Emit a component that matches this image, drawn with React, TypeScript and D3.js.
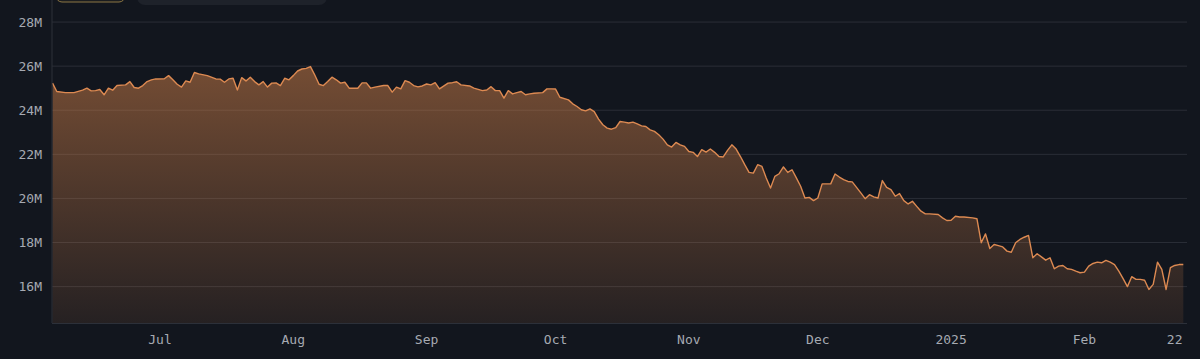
import React from 'react';
import * as d3 from 'd3';

const dates = [
  '2024-06-06','2024-06-07','2024-06-09','2024-06-11','2024-06-13','2024-06-14','2024-06-15','2024-06-16','2024-06-17','2024-06-18',
  '2024-06-19','2024-06-20','2024-06-21','2024-06-23','2024-06-24','2024-06-25','2024-06-26','2024-06-27','2024-06-28','2024-06-29',
  '2024-06-30','2024-07-02','2024-07-03','2024-07-04','2024-07-05','2024-07-06','2024-07-07','2024-07-08','2024-07-09','2024-07-10',
  '2024-07-12','2024-07-14','2024-07-15','2024-07-16','2024-07-17','2024-07-18','2024-07-19','2024-07-20','2024-07-21','2024-07-22',
  '2024-07-23','2024-07-24','2024-07-25','2024-07-26','2024-07-27','2024-07-28','2024-07-29','2024-07-30','2024-07-31','2024-08-01',
  '2024-08-02','2024-08-03','2024-08-04','2024-08-05','2024-08-06','2024-08-07','2024-08-08','2024-08-09','2024-08-10','2024-08-11',
  '2024-08-12','2024-08-13','2024-08-14','2024-08-16','2024-08-17','2024-08-18','2024-08-19','2024-08-20','2024-08-22','2024-08-23',
  '2024-08-24','2024-08-25','2024-08-26','2024-08-27','2024-08-28','2024-08-29','2024-08-30','2024-08-31','2024-09-01','2024-09-02',
  '2024-09-03','2024-09-04','2024-09-06','2024-09-07','2024-09-08','2024-09-09','2024-09-11','2024-09-12','2024-09-14','2024-09-15',
  '2024-09-16','2024-09-17','2024-09-18','2024-09-19','2024-09-20','2024-09-21','2024-09-22','2024-09-23','2024-09-24','2024-09-25',
  '2024-09-26','2024-09-28','2024-09-29','2024-09-30','2024-10-01','2024-10-02','2024-10-04','2024-10-05','2024-10-06','2024-10-07',
  '2024-10-08','2024-10-09','2024-10-10','2024-10-11','2024-10-12','2024-10-13','2024-10-14','2024-10-15','2024-10-16','2024-10-17',
  '2024-10-18','2024-10-19','2024-10-20','2024-10-21','2024-10-22','2024-10-23','2024-10-24','2024-10-25','2024-10-26','2024-10-27',
  '2024-10-28','2024-10-29','2024-10-30','2024-10-31','2024-11-01','2024-11-02','2024-11-03','2024-11-04','2024-11-05','2024-11-06',
  '2024-11-07','2024-11-08','2024-11-09','2024-11-10','2024-11-11','2024-11-12','2024-11-13','2024-11-14','2024-11-15','2024-11-16',
  '2024-11-17','2024-11-18','2024-11-19','2024-11-20','2024-11-21','2024-11-22','2024-11-23','2024-11-24','2024-11-25','2024-11-26',
  '2024-11-27','2024-11-28','2024-11-29','2024-11-30','2024-12-01','2024-12-02','2024-12-03','2024-12-04','2024-12-05','2024-12-06',
  '2024-12-07','2024-12-08','2024-12-09','2024-12-10','2024-12-11','2024-12-12','2024-12-13','2024-12-14','2024-12-15','2024-12-16',
  '2024-12-17','2024-12-18','2024-12-19','2024-12-20','2024-12-21','2024-12-22','2024-12-23','2024-12-24','2024-12-25','2024-12-26',
  '2024-12-27','2024-12-29','2024-12-30','2024-12-31','2025-01-01','2025-01-02','2025-01-03','2025-01-04','2025-01-06','2025-01-07',
  '2025-01-08','2025-01-09','2025-01-10','2025-01-11','2025-01-12','2025-01-13','2025-01-14','2025-01-15','2025-01-16','2025-01-17',
  '2025-01-18','2025-01-19','2025-01-20','2025-01-21','2025-01-22','2025-01-23','2025-01-24','2025-01-25','2025-01-26','2025-01-27',
  '2025-01-28','2025-01-29','2025-01-30','2025-01-31','2025-02-01','2025-02-02','2025-02-03','2025-02-04','2025-02-05','2025-02-06',
  '2025-02-07','2025-02-08','2025-02-09','2025-02-10','2025-02-11','2025-02-12','2025-02-13','2025-02-14','2025-02-15','2025-02-16',
  '2025-02-17','2025-02-18','2025-02-19','2025-02-20','2025-02-21','2025-02-22','2025-02-23','2025-02-24',
];

// values in millions
const values = [
  25.23,24.85,24.80,24.80,24.91,25.00,24.88,24.89,24.94,24.70,
  25.00,24.91,25.12,25.15,25.30,25.03,25.00,25.12,25.30,25.38,
  25.42,25.43,25.57,25.38,25.18,25.05,25.33,25.27,25.71,25.65,
  25.57,25.42,25.41,25.27,25.42,25.45,24.92,25.48,25.33,25.50,
  25.30,25.15,25.30,25.05,25.23,25.24,25.12,25.45,25.38,25.57,
  25.78,25.87,25.90,25.98,25.60,25.18,25.12,25.30,25.50,25.38,
  25.23,25.27,25.00,25.00,25.24,25.24,25.00,25.05,25.12,25.12,
  24.82,25.05,24.97,25.34,25.27,25.12,25.06,25.10,25.19,25.15,
  25.25,24.97,25.23,25.25,25.29,25.15,25.10,25.00,24.89,24.92,
  25.07,24.89,24.89,24.55,24.89,24.74,24.80,24.85,24.70,24.74,
  24.77,24.80,24.97,24.97,24.96,24.59,24.47,24.29,24.17,24.02,
  23.97,24.06,23.94,23.60,23.34,23.19,23.14,23.21,23.49,23.46,
  23.42,23.46,23.38,23.29,23.26,23.11,23.04,22.89,22.69,22.43,
  22.33,22.54,22.43,22.36,22.13,22.09,21.90,22.21,22.10,22.24,
  22.09,21.90,21.88,22.18,22.43,22.24,21.90,21.53,21.18,21.15,
  21.53,21.45,20.93,20.47,21.00,21.12,21.43,21.18,21.30,20.93,
  20.55,20.02,20.05,19.90,20.02,20.66,20.66,20.66,21.11,20.97,
  20.85,20.77,20.75,20.50,20.25,19.99,20.17,20.07,20.02,20.81,
  20.50,20.40,20.10,20.22,19.90,19.75,19.87,19.64,19.42,19.30,
  19.30,19.27,19.12,19.00,19.01,19.19,19.16,19.16,19.12,19.08,
  17.99,18.39,17.73,17.91,17.86,17.80,17.61,17.56,17.99,18.14,
  18.24,18.32,17.31,17.49,17.35,17.20,17.31,16.81,16.93,16.96,
  16.81,16.78,16.70,16.63,16.66,16.93,17.05,17.11,17.08,17.19,
  17.11,17.00,16.70,16.36,16.00,16.45,16.33,16.33,16.29,15.87,
  16.10,17.11,16.78,15.87,16.86,16.96,17.00,17.00,
];

const yTicks = [16, 18, 20, 22, 24, 26, 28];
const xTickDates = ['2024-07-01','2024-08-01','2024-09-01','2024-10-01','2024-11-01','2024-12-01','2025-01-01','2025-02-01','2025-02-22'];
const xTickLabels = ['Jul','Aug','Sep','Oct','Nov','Dec','2025','Feb','22'];

export default function App() {
  const W = 1200, H = 359;
  const left = 52, bottom = 323, right = 1187;
  const parse = d3.utcParse('%Y-%m-%d');
  const data = dates.map((d, i) => ({ date: parse(d) as Date, value: values[i] }));
  const x = d3.scaleUtc()
    .domain(d3.extent(data, d => d.date) as [Date, Date])
    .range([52.5, 1183.3]);
  const y = d3.scaleLinear().domain([14.35, 29]).range([bottom, 0]);

  const area = d3.area<{ date: Date; value: number }>()
    .x(d => x(d.date)).y0(bottom).y1(d => y(d.value));
  const line = d3.line<{ date: Date; value: number }>()
    .x(d => x(d.date)).y(d => y(d.value));

  const font = '"DejaVu Sans Mono", "Liberation Mono", monospace';

  return (
    <>
      <style>{`body{margin:0;background:#12161e;}`}</style>
      <svg width={W} height={H} style={{ display: 'block' }}>
        <defs>
          <linearGradient id="fillGrad" gradientUnits="userSpaceOnUse" x1={0} y1={0} x2={0} y2={bottom}>
            <stop offset="0%" stopColor="#d8844a" stopOpacity={0.6} />
            <stop offset="100%" stopColor="#d8844a" stopOpacity={0.1} />
          </linearGradient>
        </defs>
        <rect x={0} y={0} width={W} height={H} fill="#12161e" />
        {/* partially visible controls at the top */}
        <rect x={56} y={-20} width={69} height={22} rx={6} fill="#1a1c1f" stroke="#8c7644" strokeWidth={1} />
        <rect x={137} y={-20} width={190} height={25} rx={8} fill="#1e222a" />

        {yTicks.map(t => (
          <line key={'g' + t} x1={left} x2={right} y1={y(t)} y2={y(t)} stroke="#2a2e37" strokeWidth={1} />
        ))}

        <path d={area(data) || ''} fill="url(#fillGrad)" />
        <path d={line(data) || ''} fill="none" stroke="#dd8a52" strokeWidth={1.4} strokeLinejoin="round" />

        <line x1={left} x2={left} y1={0} y2={bottom} stroke="#2c3039" strokeWidth={1} />
        <line x1={left} x2={right} y1={bottom + 0.5} y2={bottom + 0.5} stroke="#2c3039" strokeWidth={1} />

        {yTicks.map(t => (
          <text key={'yl' + t} x={42} y={y(t) + 4.6} textAnchor="end" fontFamily={font} fontSize={13} fill="#a6aab2">
            {t}M
          </text>
        ))}
        {xTickDates.map((d, i) => (
          <text key={'xl' + d} x={x(parse(d) as Date)} y={344} textAnchor="middle" fontFamily={font} fontSize={13} fill="#a6aab2">
            {xTickLabels[i]}
          </text>
        ))}
      </svg>
    </>
  );
}
